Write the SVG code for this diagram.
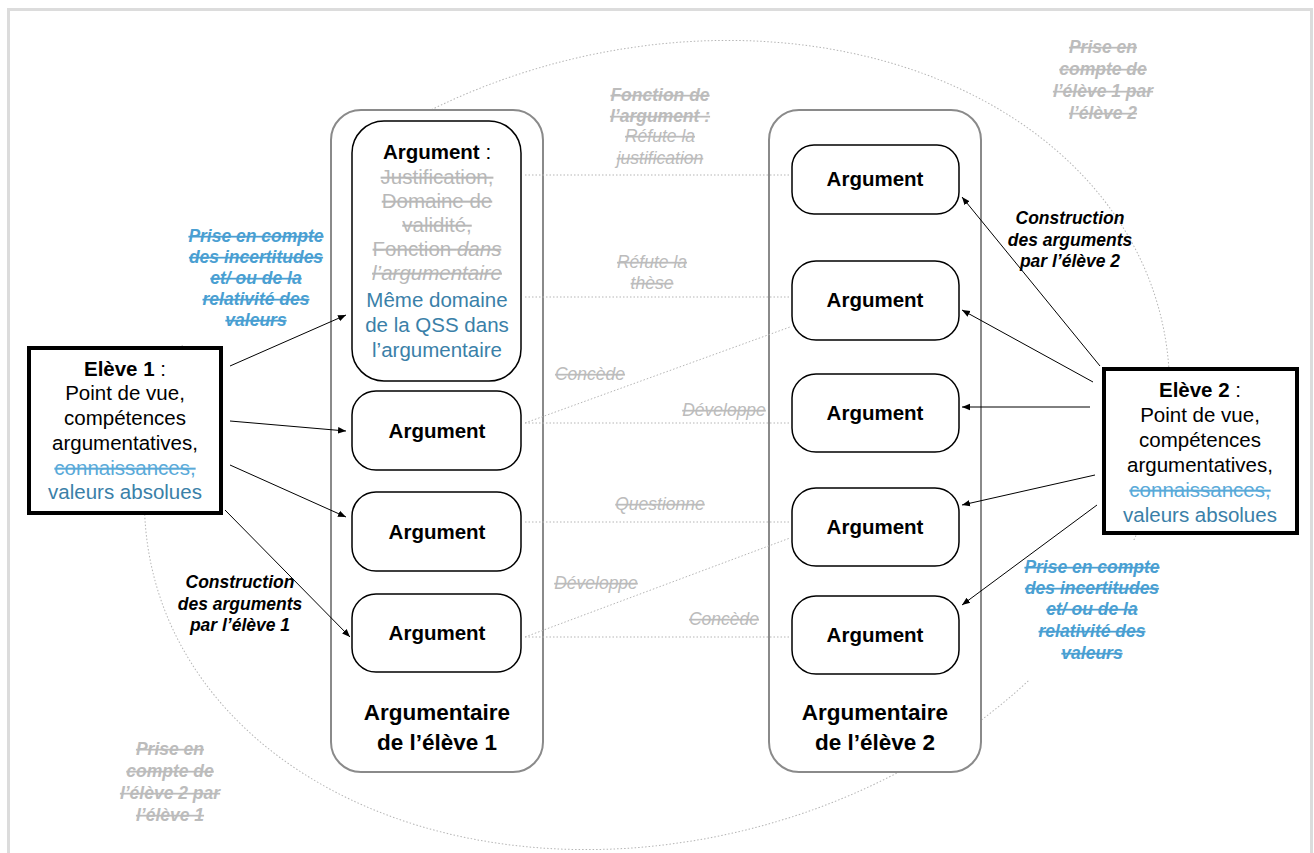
<svg xmlns="http://www.w3.org/2000/svg" width="1314" height="853" viewBox="0 0 1314 853">
<defs>
<marker id="ah" viewBox="0 0 10 10" refX="10" refY="5" markerWidth="8" markerHeight="8" markerUnits="userSpaceOnUse" orient="auto">
<path d="M0,1 L10,5 L0,9 z" fill="#000"/>
</marker>
<style>
text{font-family:"Liberation Sans",Arial,sans-serif;text-anchor:middle}
.cont{fill:#fff;stroke:#8a8a8a;stroke-width:2}
.arg{fill:#fff;stroke:#000;stroke-width:1.5}
.eleve{fill:#fff;stroke:#000;stroke-width:4}
.bg{fill:#fff;stroke:none}
.argt{font-size:20.5px;font-weight:bold;fill:#000}
.big{font-size:20.5px;fill:#000}
.ttl{font-size:22.5px;font-weight:bold;fill:#000}
.strg{fill:#b8b8b8;text-decoration:line-through}
.lbl{font-size:17.5px;font-style:italic;fill:#bcbcbc;text-decoration:line-through}
.lblb{font-size:17.5px;font-style:italic;font-weight:bold;fill:#bcbcbc;text-decoration:line-through}
.blue{font-size:17.5px;font-style:italic;font-weight:bold;fill:#4a9fd2;text-decoration:line-through}
.cons{font-size:17.5px;font-style:italic;font-weight:bold;fill:#000}
.bv{fill:#3a80a8}
.bs{fill:#5aaad9;text-decoration:line-through}
.dot{stroke:#b5b5b5;stroke-width:1;stroke-dasharray:1.5 2;fill:none}
.arr{stroke:#000;stroke-width:1;fill:none;marker-end:url(#ah)}
</style>
</defs>
<rect x="8.5" y="9.5" width="1303" height="860" fill="#fff" stroke="#dcdcdc" stroke-width="3"/>
<g id="scope-ellipse">
<ellipse cx="657" cy="445" rx="520" ry="395" transform="rotate(-15 657 445)" class="dot"/>
<rect class="bg" x="176" y="155" width="155" height="190"/>
<rect class="bg" x="1012" y="540" width="160" height="140"/>
<rect class="bg" x="1050" y="34" width="110" height="92"/>
<rect class="bg" x="112" y="720" width="116" height="108"/>
</g>

<g id="container1"><rect class="cont" x="331" y="110" width="212" height="662" rx="30"/>
<text class="ttl" x="437" y="720">Argumentaire</text><text class="ttl" x="437" y="750">de l’élève 1</text></g>
<g id="container2"><rect class="cont" x="769" y="110" width="212" height="662" rx="30"/>
<text class="ttl" x="875" y="720">Argumentaire</text><text class="ttl" x="875" y="750">de l’élève 2</text></g>

<g id="connectors">
<line class="dot" x1="525" y1="175" x2="790" y2="175"/>
<line class="dot" x1="525" y1="297" x2="790" y2="297"/>
<line class="dot" x1="525" y1="423" x2="790" y2="327"/>
<line class="dot" x1="525" y1="423" x2="790" y2="423"/>
<line class="dot" x1="525" y1="522" x2="790" y2="522"/>
<line class="dot" x1="525" y1="637" x2="790" y2="538"/>
<line class="dot" x1="525" y1="637" x2="790" y2="637"/>
<line class="arr" x1="230" y1="366" x2="346" y2="315"/>
<line class="arr" x1="230" y1="421" x2="346" y2="431"/>
<line class="arr" x1="230" y1="465" x2="346" y2="517"/>
<line class="arr" x1="225" y1="510" x2="350" y2="637"/>
<line class="arr" x1="1100" y1="366" x2="962" y2="197"/>
<line class="arr" x1="1093" y1="382" x2="962" y2="310"/>
<line class="arr" x1="1090" y1="407" x2="962" y2="407"/>
<line class="arr" x1="1095" y1="475" x2="962" y2="505"/>
<line class="arr" x1="1097" y1="505" x2="962" y2="605"/>
</g>

<g id="arg-l1"><rect class="arg" x="352" y="121" width="169" height="260" rx="32"/>
<text class="big" x="437" y="159"><tspan font-weight="bold">Argument</tspan> :</text>
<text class="big strg" x="437" y="184">Justification,</text>
<text class="big strg" x="437" y="208">Domaine de</text>
<text class="big strg" x="437" y="232">validité,</text>
<text class="big strg" x="437" y="256">Fonction <tspan font-style="italic">dans</tspan></text>
<text class="big strg" x="437" y="280" font-style="italic">l’argumentaire</text>
<text class="big bv" x="437" y="307">Même domaine</text>
<text class="big bv" x="437" y="332">de la QSS dans</text>
<text class="big bv" x="437" y="357">l’argumentaire</text></g>
<g id="arg-l2"><rect class="arg" x="352" y="391" width="169" height="79" rx="24"/><text class="argt" x="437" y="438">Argument</text></g>
<g id="arg-l3"><rect class="arg" x="352" y="492" width="169" height="79" rx="24"/><text class="argt" x="437" y="539">Argument</text></g>
<g id="arg-l4"><rect class="arg" x="352" y="594" width="169" height="78" rx="24"/><text class="argt" x="437" y="640">Argument</text></g>

<g id="arg-r1"><rect class="arg" x="792" y="145" width="167" height="69" rx="22"/><text class="argt" x="875" y="186">Argument</text></g>
<g id="arg-r2"><rect class="arg" x="792" y="261" width="167" height="79" rx="24"/><text class="argt" x="875" y="307">Argument</text></g>
<g id="arg-r3"><rect class="arg" x="792" y="374" width="167" height="78" rx="24"/><text class="argt" x="875" y="420">Argument</text></g>
<g id="arg-r4"><rect class="arg" x="792" y="488" width="167" height="78" rx="24"/><text class="argt" x="875" y="534">Argument</text></g>
<g id="arg-r5"><rect class="arg" x="792" y="596" width="167" height="78" rx="24"/><text class="argt" x="875" y="642">Argument</text></g>

<g id="eleve1"><rect class="eleve" x="29" y="348" width="192" height="165"/>
<text class="big" x="125" y="376"><tspan font-weight="bold">Elève 1</tspan> :</text>
<text class="big" x="125" y="400">Point de vue,</text>
<text class="big" x="125" y="425">compétences</text>
<text class="big" x="125" y="450">argumentatives,</text>
<text class="big bs" x="125" y="475">connaissances,</text>
<text class="big bv" x="125" y="499">valeurs absolues</text></g>
<g id="eleve2"><rect class="eleve" x="1104" y="369" width="193" height="164"/>
<text class="big" x="1200" y="397"><tspan font-weight="bold">Elève 2</tspan> :</text>
<text class="big" x="1200" y="422">Point de vue,</text>
<text class="big" x="1200" y="447">compétences</text>
<text class="big" x="1200" y="472">argumentatives,</text>
<text class="big bs" x="1200" y="497">connaissances,</text>
<text class="big bv" x="1200" y="522">valeurs absolues</text></g>

<g id="labels">
<text class="lblb" x="660" y="101">Fonction de</text>
<text class="lblb" x="660" y="122">l’argument :</text>
<text class="lbl" x="660" y="142">Réfute la</text>
<text class="lbl" x="660" y="164">justification</text>
<text class="lbl" x="652" y="268">Réfute la</text>
<text class="lbl" x="652" y="289">thèse</text>
<text class="lbl" x="590" y="380">Concède</text>
<text class="lbl" x="724" y="416">Développe</text>
<text class="lbl" x="660" y="510">Questionne</text>
<text class="lbl" x="596" y="589">Développe</text>
<text class="lbl" x="724" y="625">Concède</text>
</g>
<g id="label-incert1">
<text class="blue" x="256" y="242">Prise en compte</text>
<text class="blue" x="256" y="263">des incertitudes</text>
<text class="blue" x="256" y="284">et/ ou de la</text>
<text class="blue" x="256" y="305">relativité des</text>
<text class="blue" x="256" y="326">valeurs</text></g>
<g id="label-incert2">
<text class="blue" x="1092" y="573">Prise en compte</text>
<text class="blue" x="1092" y="594">des incertitudes</text>
<text class="blue" x="1092" y="615">et/ ou de la</text>
<text class="blue" x="1092" y="637">relativité des</text>
<text class="blue" x="1092" y="659">valeurs</text></g>
<g id="label-cons1">
<text class="cons" x="240" y="588">Construction</text>
<text class="cons" x="240" y="610">des arguments</text>
<text class="cons" x="240" y="631">par l’élève 1</text></g>
<g id="label-cons2">
<text class="cons" x="1070" y="224">Construction</text>
<text class="cons" x="1070" y="246">des arguments</text>
<text class="cons" x="1070" y="267">par l’élève 2</text></g>
<g id="label-pec12">
<text class="lblb" x="1103" y="53">Prise en</text>
<text class="lblb" x="1103" y="75">compte de</text>
<text class="lblb" x="1103" y="97">l’élève 1 par</text>
<text class="lblb" x="1103" y="119">l’élève 2</text></g>
<g id="label-pec21">
<text class="lblb" x="170" y="755">Prise en</text>
<text class="lblb" x="170" y="777">compte de</text>
<text class="lblb" x="170" y="799">l’élève 2 par</text>
<text class="lblb" x="170" y="821">l’élève 1</text></g>
</svg>
